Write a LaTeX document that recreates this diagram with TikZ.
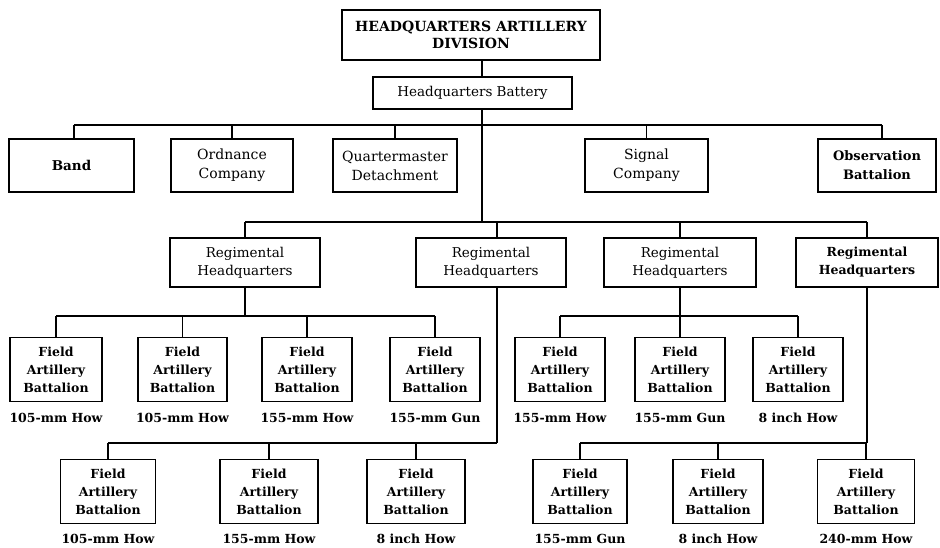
\documentclass[tikz,border=0pt]{standalone}
\usepackage{fontspec}
\setmainfont{DejaVu Serif}
\begin{document}
\begin{tikzpicture}[x=1pt,y=-1pt,
  box/.style={draw, line width=1.4pt, align=center, inner sep=0pt, font=\fontsize{13.5}{18}\selectfont},
  sbox/.style={box, font=\fontsize{14}{19}\selectfont},
  bbox/.style={box, font=\bfseries\fontsize{12.5}{18}\selectfont},
  bat/.style={bbox, minimum height=64pt},
  wlabel/.style={font=\bfseries\fontsize{12.5}{14}\selectfont, inner sep=0pt},
  conn/.style={line width=1.1pt}]
\useasboundingbox (0,0) rectangle (940,547);
% headquarters
\node[box, font=\bfseries\fontsize{14}{17}\selectfont, minimum width=258pt, minimum height=50pt] (top) at (471,35) {HEADQUARTERS ARTILLERY\\DIVISION};
\node[box, minimum width=199pt, minimum height=32pt] (hqb) at (472.5,93) {Headquarters Battery};
% staff units
\node[bbox, font=\bfseries\fontsize{13.5}{19}\selectfont, minimum width=125pt, minimum height=53pt] (band) at (71.5,165.5) {Band};
\node[sbox, minimum width=122pt, minimum height=53pt] (ord) at (232,165.5) {Ordnance\\Company};
\node[sbox, minimum width=124pt, minimum height=53pt] (qm) at (395,165.5) {Quartermaster\\Detachment};
\node[sbox, minimum width=123pt, minimum height=53pt] (sig) at (646.5,165.5) {Signal\\Company};
\node[bbox, font=\bfseries\fontsize{13}{19}\selectfont, minimum width=118pt, minimum height=53pt] (obs) at (877,165.5) {Observation\\Battalion};
% regiments
\node[box, minimum width=150pt, minimum height=49pt] (rhq1) at (245,262.5) {Regimental\\Headquarters};
\node[box, minimum width=150pt, minimum height=49pt] (rhq2) at (491,262.5) {Regimental\\Headquarters};
\node[box, minimum width=152pt, minimum height=49pt] (rhq3) at (680,262.5) {Regimental\\Headquarters};
\node[bbox, minimum width=142pt, minimum height=49pt] (rhq4) at (867,262.5) {Regimental\\Headquarters};
% battalions row 1
\node[bat, minimum width=92pt] (b1) at (56,369.5) {Field\\Artillery\\Battalion};
\node[bat, minimum width=89pt] (b2) at (182.5,369.5) {Field\\Artillery\\Battalion};
\node[bat, minimum width=90pt] (b3) at (307,369.5) {Field\\Artillery\\Battalion};
\node[bat, minimum width=90pt] (b4) at (435,369.5) {Field\\Artillery\\Battalion};
\node[bat, minimum width=90pt] (b5) at (560,369.5) {Field\\Artillery\\Battalion};
\node[bat, minimum width=90pt] (b6) at (680,369.5) {Field\\Artillery\\Battalion};
\node[bat, minimum width=90pt] (b7) at (798,369.5) {Field\\Artillery\\Battalion};
% battalions row 2
\node[bat, minimum width=95pt] (b8) at (108,491.5) {Field\\Artillery\\Battalion};
\node[bat, minimum width=98pt] (b9) at (269,491.5) {Field\\Artillery\\Battalion};
\node[bat, minimum width=98pt] (b10) at (416,491.5) {Field\\Artillery\\Battalion};
\node[bat, minimum width=94pt] (b11) at (580,491.5) {Field\\Artillery\\Battalion};
\node[bat, minimum width=90pt] (b12) at (718,491.5) {Field\\Artillery\\Battalion};
\node[bat, minimum width=97pt] (b13) at (866,491.5) {Field\\Artillery\\Battalion};
% labels
\node[wlabel] (l1) at ([yshift=-16pt]b1.south) {105-mm How};
\node[wlabel] (l2) at ([yshift=-16pt]b2.south) {105-mm How};
\node[wlabel] (l3) at ([yshift=-16pt]b3.south) {155-mm How};
\node[wlabel] (l4) at ([yshift=-16pt]b4.south) {155-mm Gun};
\node[wlabel] (l5) at ([yshift=-16pt]b5.south) {155-mm How};
\node[wlabel] (l6) at ([yshift=-16pt]b6.south) {155-mm Gun};
\node[wlabel] (l7) at ([yshift=-16pt]b7.south) {8 inch How};
\node[wlabel] (l8) at ([yshift=-15pt]b8.south) {105-mm How};
\node[wlabel] (l9) at ([yshift=-15pt]b9.south) {155-mm How};
\node[wlabel] (l10) at ([yshift=-15pt]b10.south) {8 inch How};
\node[wlabel] (l11) at ([yshift=-15pt]b11.south) {155-mm Gun};
\node[wlabel] (l12) at ([yshift=-15pt]b12.south) {8 inch How};
\node[wlabel] (l13) at ([yshift=-15pt]b13.south) {240-mm How};
% connector coordinates
\coordinate (sp) at (482,0);
\coordinate (bus1L) at (74,125);
\coordinate (bus1R) at (882,125);
\coordinate (bus2L) at (245,222);
\coordinate (bus2R) at (867,222);
\coordinate (y3) at (0,316);
\coordinate (y4) at (0,443);
\coordinate (d2) at (497,0);
% top connectors
\draw[conn] (top.south -| sp) -- (hqb.north -| sp);
\draw[conn] (hqb.south -| sp) -- (sp |- bus1L);
\draw[conn] (bus1L) -- (bus1R);
\draw[conn] (bus1L) -- (bus1L |- band.north);
\draw[conn] (ord.north |- bus1L) -- (ord.north);
\draw[conn] (qm.north |- bus1L) -- (qm.north);
\draw[conn] (sig.north |- bus1L) -- (sig.north);
\draw[conn] (bus1R) -- (bus1R |- obs.north);
% to regiments
\draw[conn] (sp |- bus1L) -- (sp |- bus2L);
\draw[conn] (bus2L) -- (bus2R);
\draw[conn] (bus2L) -- (rhq1.north);
\draw[conn] (d2 |- bus2L) -- (d2 |- rhq2.north);
\draw[conn] (rhq3.north |- bus2L) -- (rhq3.north);
\draw[conn] (bus2R) -- (rhq4.north);
% regiment 1
\draw[conn] (rhq1.south) -- (rhq1.south |- y3);
\draw[conn] (b1.north |- y3) -- (b4.north |- y3);
\foreach \b in {b1,b2,b3,b4} \draw[conn] (\b.north |- y3) -- (\b.north);
% regiment 3
\draw[conn] (rhq3.south) -- (rhq3.south |- y3);
\draw[conn] (b5.north |- y3) -- (b7.north |- y3);
\foreach \b in {b5,b6,b7} \draw[conn] (\b.north |- y3) -- (\b.north);
% regiment 2
\draw[conn] (d2 |- rhq2.south) -- (d2 |- y4);
\draw[conn] (b8.north |- y4) -- (d2 |- y4);
\foreach \b in {b8,b9,b10} \draw[conn] (\b.north |- y4) -- (\b.north);
% regiment 4
\draw[conn] (rhq4.south) -- (rhq4.south |- y4);
\draw[conn] (b11.north |- y4) -- (rhq4.south |- y4);
\foreach \b in {b11,b12,b13} \draw[conn] (\b.north |- y4) -- (\b.north);
\end{tikzpicture}
\end{document}
